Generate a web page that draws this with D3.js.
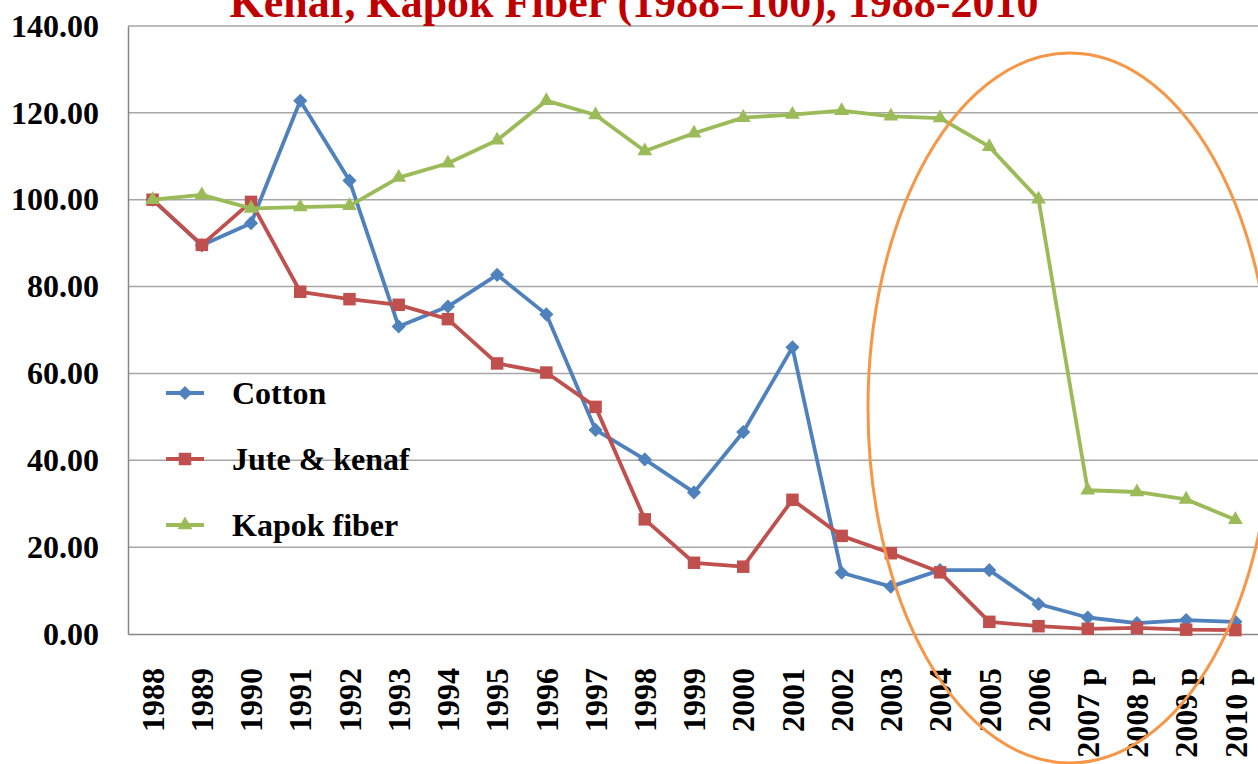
<!DOCTYPE html>
<html>
<head>
<meta charset="utf-8">
<script src="https://cdn.jsdelivr.net/npm/d3@7"></script>
<style>
  body { margin: 0; background: #fff; }
  text { font-family: "Liberation Serif", "Times New Roman", serif; font-weight: bold; }
</style>
</head>
<body>
<div id="chart"></div>
<script>
// categories and series (index, 1988=100)
var years = ["1988","1989","1990","1991","1992","1993","1994","1995","1996","1997","1998","1999",
             "2000","2001","2002","2003","2004","2005","2006","2007 p","2008 p","2009 p","2010 p"];
var cotton = [100, 89.5, 94.6, 122.8, 104.4, 70.8, 75.4, 82.7, 73.6, 47.0, 40.2, 32.6,
              46.5, 66.0, 14.1, 10.9, 14.7, 14.7, 6.9, 3.8, 2.5, 3.2, 2.8];
var jute = [100, 89.6, 99.5, 78.8, 77.1, 75.8, 72.5, 62.3, 60.2, 52.3, 26.4, 16.4,
            15.5, 30.9, 22.6, 18.6, 14.2, 2.8, 1.8, 1.2, 1.4, 1.0, 0.9];
var kapok = [100, 101.1, 98.0, 98.3, 98.6, 105.1, 108.4, 113.7, 122.8, 119.5, 111.2, 115.3,
             118.9, 119.6, 120.5, 119.2, 118.8, 112.2, 100.1, 33.1, 32.7, 31.0, 26.3];
var yTicks = [0, 20, 40, 60, 80, 100, 120, 140];
var seriesNames = ["Cotton", "Jute & kenaf", "Kapok fiber"];
var titleText = "Kenaf, Kapok Fiber (1988=100), 1988-2010";

var W = 1258, H = 764;
var margin = {top: 26, left: 128, bottom: 130};
var plotRight = 1260;

var svg = d3.select("#chart").append("svg")
    .attr("width", W)
    .attr("height", H);

var x = d3.scaleBand()
    .domain(years)
    .range([margin.left, plotRight])
    .paddingInner(0).paddingOuter(0);
var y = d3.scaleLinear()
    .domain([0, 140])
    .range([H - margin.bottom, margin.top]);

function cx(d) { return x(d) + x.bandwidth() / 2; }

// gridlines
svg.append("g").selectAll("line")
  .data(yTicks.filter(function(t) { return t > 0; }))
  .enter().append("line")
    .attr("x1", margin.left).attr("x2", plotRight)
    .attr("y1", function(d) { return y(d); })
    .attr("y2", function(d) { return y(d); })
    .attr("stroke", "#a6a6a6")
    .attr("stroke-width", 1.5);

// y axis
var axisY = svg.append("g")
    .attr("transform", "translate(" + margin.left + ",0)")
    .call(d3.axisLeft(y).tickValues(yTicks).tickSize(0).tickPadding(29).tickFormat(d3.format(".2f")));
axisY.select(".domain").attr("stroke", "#868686").attr("stroke-width", 1.5);
axisY.selectAll(".tick text")
    .attr("font-size", 32)
    .attr("font-family", "Liberation Serif, serif")
    .attr("font-weight", "bold")
    .attr("fill", "black");

// x axis
var axisX = svg.append("g")
    .attr("transform", "translate(0," + y(0) + ")")
    .call(d3.axisBottom(x).tickSize(0));
axisX.select(".domain").attr("stroke", "#868686").attr("stroke-width", 1.5);
axisX.selectAll(".tick text")
    .attr("font-size", 32)
    .attr("font-family", "Liberation Serif, serif")
    .attr("font-weight", "bold")
    .attr("fill", "black")
    .attr("transform", "rotate(-90)")
    .attr("text-anchor", "end")
    .attr("x", -34)
    .attr("y", 0)
    .attr("dy", "0.35em");

// series (diamond = square turned 45deg, like excel's marker)
var series = [
  {name: seriesNames[0], values: cotton, color: "#4f81bd", symbol: d3.symbolSquare, size: 100, rot: 45},
  {name: seriesNames[1], values: jute,   color: "#c0504d", symbol: d3.symbolSquare, size: 156, rot: 0},
  {name: seriesNames[2], values: kapok,  color: "#9bbb59", symbol: d3.symbolTriangle, size: 95, rot: 0}
];

var line = d3.line()
    .x(function(d, i) { return cx(years[i]); })
    .y(function(d) { return y(d); });

series.forEach(function(s) {
  var g = svg.append("g");
  g.append("path")
    .attr("d", line(s.values))
    .attr("fill", "none")
    .attr("stroke", s.color)
    .attr("stroke-width", 3.8)
    .attr("stroke-linejoin", "round");
  g.selectAll("path.m")
    .data(s.values)
    .enter().append("path")
      .attr("class", "m")
      .attr("d", d3.symbol().type(s.symbol).size(s.size))
      .attr("transform", function(d, i) {
        return "translate(" + cx(years[i]) + "," + y(d) + ") rotate(" + s.rot + ")";
      })
      .attr("fill", s.color);
});

// legend
var legend = svg.append("g");
series.forEach(function(s, i) {
  var ly = 393 + i * 66;
  legend.append("line")
    .attr("x1", 166).attr("x2", 204)
    .attr("y1", ly).attr("y2", ly)
    .attr("stroke", s.color).attr("stroke-width", 3.8);
  legend.append("path")
    .attr("d", d3.symbol().type(s.symbol).size(s.size))
    .attr("transform", "translate(185," + ly + ") rotate(" + s.rot + ")")
    .attr("fill", s.color);
  legend.append("text")
    .attr("x", 232).attr("y", ly)
    .attr("dy", "0.35em")
    .attr("font-size", 32)
    .attr("fill", "black")
    .text(s.name);
});

// title (top part is cut off in the original)
svg.append("text")
    .attr("x", 634).attr("y", 17)
    .attr("text-anchor", "middle")
    .attr("font-size", 44)
    .attr("fill", "#c00000")
    .text(titleText);

// orange highlight ellipse
svg.append("ellipse")
    .attr("cx", 1070).attr("cy", 408)
    .attr("rx", 202).attr("ry", 355)
    .attr("fill", "none")
    .attr("stroke", "#f79646")
    .attr("stroke-width", 3);
</script>
</body>
</html>
